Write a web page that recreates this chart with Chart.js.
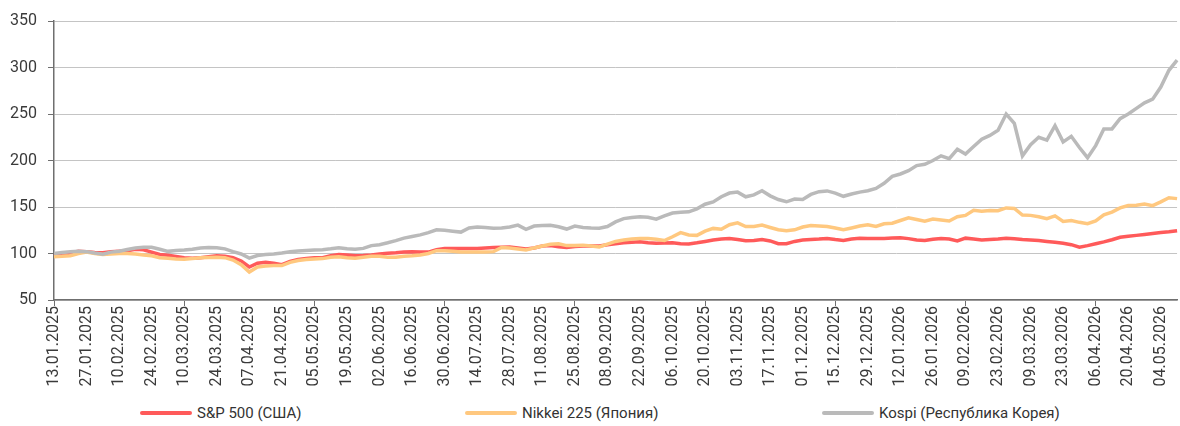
<!DOCTYPE html>
<html>
<head>
<meta charset="utf-8">
<script src="https://cdn.jsdelivr.net/npm/chart.js@4.4.1/dist/chart.umd.min.js"></script>
<style>
    html, body { margin: 0; padding: 0; background: #fff; }
    #wrap { position: relative; width: 1180px; height: 426px; font-family: Roboto, sans-serif; }
    #box { position: absolute; left: 0; top: 0; width: 1180px; height: 395px; }
    #legend { position: absolute; left: 0; top: 403px; width: 1180px; height: 20px; }
    .item { position: absolute; top: 0; height: 20px; display: flex; align-items: center; font-size: 15px; color: #333; white-space: nowrap; }
    .item .line { display: inline-block; width: 52px; height: 4px; margin-right: 5px; border-radius: 2px; }
</style>
</head>
<body>
<div id="wrap">
    <div id="box"><canvas id="grafico"></canvas></div>
    <div id="legend"></div>
</div>
<script>
// Два значения в неделю (пн и чт), с 13.01.2025 по 11.05.2026, 13.01.2025 = 100
const firstDay = [2025, 0, 13];
const pointCount = 139;

const seriesNames = ['S&P 500 (США)', 'Nikkei 225 (Япония)', 'Kospi (Республика Корея)'];
const seriesColors = ['#ff5a5a', '#ffc87f', '#bababa'];
const legendLeft = [140, 465, 822];

const yTicks = [50, 100, 150, 200, 250, 300, 350];

const sp500 = [
    97.6, 99, 100.7, 102.5, 102, 101, 100.7, 102, 102.5, 103,
    104.5, 104, 101.5, 99, 98, 96.8, 95.5, 94.8, 95.5, 96.5,
    97.6, 97, 95.5, 92, 85.5, 89.5, 90.5, 89.5, 88, 91.5,
    93.5, 94.5, 95.3, 95.5, 97.5, 99, 98.5, 97.5, 97.8, 98.5,
    99.5, 100.3, 100.8, 101.5, 102, 101.5, 101.5, 104, 105.5, 105.5,
    105.5, 105.5, 105.5, 106, 106.5, 106.8, 107, 106, 104.8, 106,
    108, 108.5, 107.3, 106.5, 107.5, 108, 108, 108, 109.5, 110.5,
    111.5, 112, 112.6, 111.5, 111, 111.3, 111.5, 110.5, 110.2, 111.5,
    113, 114.5, 115.5, 116, 115, 113.7, 114, 115, 113.5, 110.5,
    110.5, 113, 114.4, 115, 115.5, 116.2, 115, 114, 115.5, 116.5,
    116, 116.2, 116.2, 116.6, 117, 116, 114.5, 114, 115.3, 116.2,
    115.5, 113.5, 116.5, 115.5, 114.5, 115, 115.5, 116.3, 115.8, 115,
    114.5, 114, 113, 112, 111, 109.5, 106.8, 108.5, 110.5, 112.5,
    114.8, 117.5, 118.5, 119.5, 120.5, 121.5, 122.5, 123.3, 124.5
];

const nikkei225 = [
    96.6, 97, 97.6, 100, 101.5, 100, 99, 99.5, 100, 100,
    99.5, 98.5, 97.5, 95.5, 94.8, 94, 93.7, 94.5, 95.5, 95.7,
    95.9, 95.5, 93, 88, 80, 85.5, 86.5, 87, 87, 90.5,
    92.5, 93.5, 94, 94.5, 96, 96.5, 95.5, 95, 96, 97,
    97, 96, 96, 97, 97.5, 98.5, 100, 103, 103, 102.3,
    101.7, 101.5, 101.5, 101.5, 102, 106.5, 105.8, 104.8, 103.7, 106,
    108, 110, 110.5, 108.5, 108.7, 109, 108, 107, 110, 113,
    114.5, 115.5, 116, 116, 115.4, 114, 118, 122.5, 120, 119.5,
    124, 127, 126, 131, 133, 129, 129, 130.5, 128, 125.5,
    124.5, 125.5, 128.5, 130, 129.5, 129, 127.5, 125.5, 127.5, 129.5,
    131, 129, 132, 132.5, 135.5, 138.4, 136.5, 134.8, 137, 136,
    135, 139.5, 141, 146.5, 145.5, 146.3, 146, 149, 148.5, 141.3,
    141, 139.5, 137.5, 140.5, 134.5, 135.5, 133.5, 132, 135, 141.5,
    144.5, 149, 151.5, 152, 153.3, 151.5, 155.5, 160, 159
];

const kospi = [
    100, 101, 101.9, 102.3, 102, 100.5, 99.3, 101.5, 102.5, 104.3,
    106, 106.8, 106.6, 104.5, 102.3, 103.3, 103.8, 104.5, 106, 106.4,
    106.2, 105, 102, 99.5, 95, 97.8, 98.8, 99.5, 100.5, 101.9,
    102.8, 103.3, 103.7, 104, 105, 106.2, 105, 104.6, 105.5, 108.5,
    109.5, 111.5, 113.8, 116.5, 118.2, 120, 122.5, 125.5, 125, 124,
    123, 127.5, 128.5, 128, 127.2, 127.5, 128.5, 130.5, 126, 129.5,
    130, 130.3, 128.8, 126.3, 129.5, 128, 127.3, 127.2, 129, 134,
    137.5, 138.8, 139.5, 139, 137, 140.5, 143.5, 144.3, 144.8, 148,
    153, 155.5, 161, 165, 166, 161, 163, 167.5, 162, 158,
    155.6, 158.5, 158, 163.5, 166.5, 167.3, 165, 161.5, 164, 166,
    167.5, 170, 175.5, 183, 185.5, 189, 194.5, 196, 200, 205,
    202, 212, 207, 215, 223, 227, 232.5, 250, 240, 205,
    217, 225, 222, 237.5, 220, 226, 214, 203, 216, 234,
    234, 245, 250, 256, 262, 266, 279, 297, 308
];

const seriesValues = [sp500, nikkei225, kospi];

function twoDigits(n) {
    return (n < 10 ? '0' : '') + n;
}

function buildDates() {
    const dates = [];
    const d = new Date(firstDay[0], firstDay[1], firstDay[2]);
    for (let i = 0; i < pointCount; i++) {
        dates.push(twoDigits(d.getDate()) + '.' + twoDigits(d.getMonth() + 1) + '.' + d.getFullYear());
        d.setDate(d.getDate() + (i % 2 === 0 ? 3 : 4));
    }
    return dates;
}

const dates = buildDates();
const axisColor = '#6f6f6f';
const textColor = '#3a3a3a';

const datasets = seriesNames.map(function (name, i) {
    return {
        label: name,
        data: seriesValues[i],
        borderColor: seriesColors[i],
        backgroundColor: seriesColors[i],
        borderWidth: 3.5,
        pointRadius: 0,
        tension: 0,
        order: 3 - i // Kospi сверху
    };
});

new Chart(document.getElementById('grafico'), {
    type: 'line',
    data: { labels: dates, datasets: datasets },
    options: {
        responsive: true,
        maintainAspectRatio: false,
        animation: false,
        layout: { padding: { top: 21, right: 0, left: 0, bottom: 0 } },
        plugins: {
            legend: { display: false },
            tooltip: { enabled: false }
        },
        scales: {
            x: {
                offset: false,
                border: { color: axisColor, width: 1.5 },
                grid: {
                    drawOnChartArea: false,
                    tickLength: 6,
                    tickColor: function (ctx) {
                        return ctx.index % 4 === 0 ? axisColor : 'rgba(0,0,0,0)';
                    }
                },
                ticks: {
                    autoSkip: false,
                    maxRotation: 90,
                    minRotation: 90,
                    padding: 0,
                    color: textColor,
                    font: { family: 'Roboto', size: 16 },
                    callback: function (value, index) {
                        return index % 4 === 0 ? dates[index] : null;
                    }
                },
                afterFit: function (scale) { scale.height = 95; }
            },
            y: {
                min: yTicks[0],
                max: yTicks[yTicks.length - 1],
                border: { color: axisColor, width: 1.5 },
                grid: { color: '#c4c4c4', lineWidth: 1, tickLength: 6, tickColor: axisColor },
                ticks: {
                    stepSize: 50,
                    padding: 11,
                    color: textColor,
                    font: { family: 'Roboto', size: 16 }
                },
                afterBuildTicks: function (scale) {
                    scale.ticks = yTicks.map(function (v) { return { value: v }; });
                },
                afterFit: function (scale) { scale.width = 54; }
            }
        }
    }
});

// Легенда
const legend = document.getElementById('legend');
seriesNames.forEach(function (name, i) {
    const item = document.createElement('div');
    item.className = 'item';
    item.style.left = legendLeft[i] + 'px';
    const line = document.createElement('span');
    line.className = 'line';
    line.style.background = seriesColors[i];
    const text = document.createElement('span');
    text.textContent = name;
    item.appendChild(line);
    item.appendChild(text);
    legend.appendChild(item);
});
</script>
</body>
</html>
